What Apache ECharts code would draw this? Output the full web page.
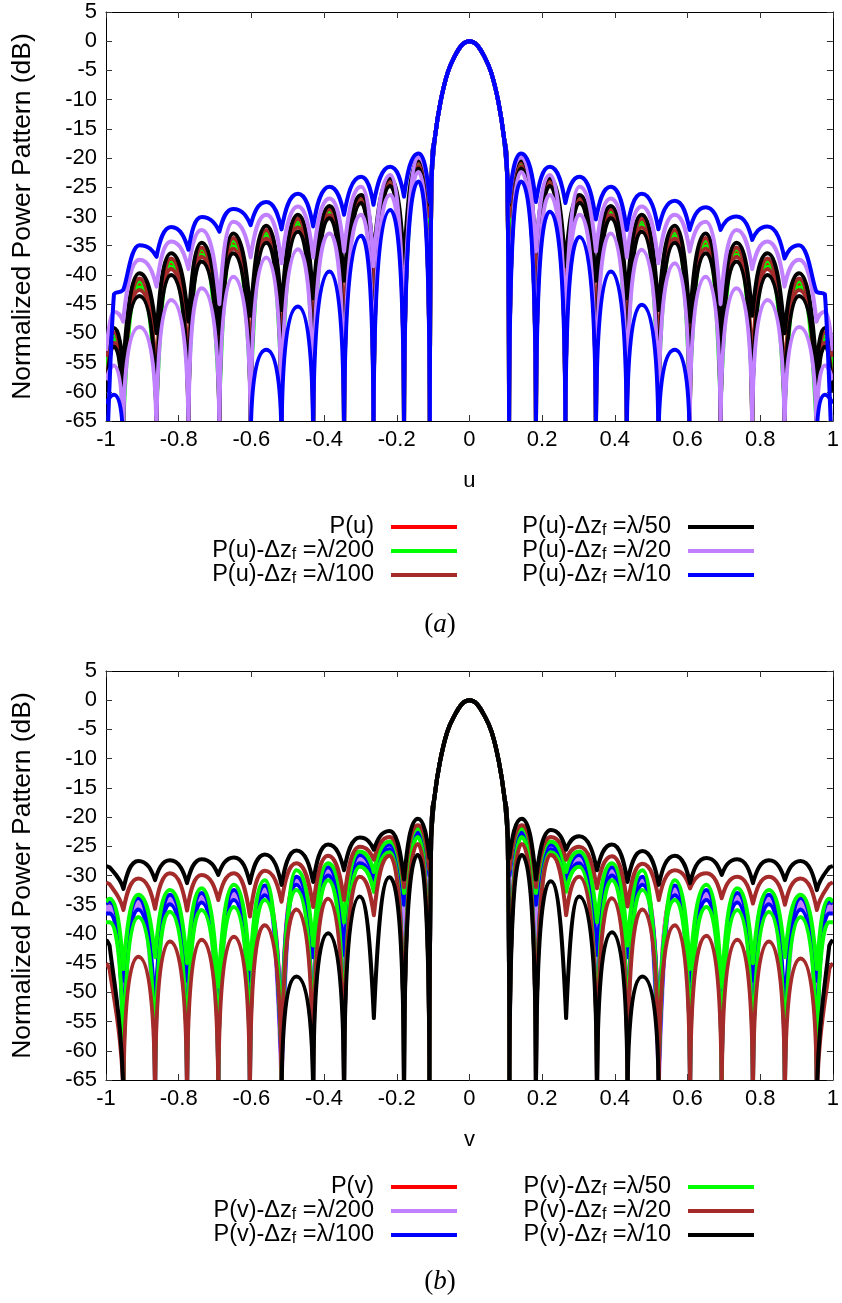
<!DOCTYPE html>
<html>
<head>
<meta charset="utf-8">
<script src="https://cdn.jsdelivr.net/npm/echarts@6/dist/echarts.min.js"></script>
<style>
html,body{margin:0;padding:0;background:#fff;}
#c{width:842px;height:1303px;}
</style>
</head>
<body>
<div id="c"></div>
<script>
// ---------- shared ----------
const NUL = -70; // off-scale null (pattern goes to -inf there)
const ALLNUL = [NUL,NUL,NUL,NUL,NUL,NUL,NUL,NUL,NUL,NUL,NUL,NUL,NUL,NUL,NUL,NUL,NUL,NUL,NUL,NUL,NUL,NUL];
const X_TICKS = [-1,-0.8,-0.6,-0.4,-0.2,0,0.2,0.4,0.6,0.8,1];
const Y_TICKS = [5,0,-5,-10,-15,-20,-25,-30,-35,-40,-45,-50,-55,-60,-65];

// ---------- panel (a) : u cut ----------
const PK_A = [-0.978,-0.908,-0.821,-0.737,-0.650,-0.559,-0.472,-0.385,-0.298,-0.218,-0.140, 0.142,0.221,0.303,0.389,0.474,0.565,0.650,0.735,0.820,0.907,0.978];
const DP_A = [-0.953,-0.861,-0.773,-0.688,-0.602,-0.517,-0.430,-0.345,-0.264,-0.180,-0.109, 0.109,0.183,0.264,0.348,0.433,0.520,0.606,0.691,0.778,0.867,0.955];
const MAIN_U_A = [-0.104,-0.095,-0.080,-0.060,-0.040,-0.020,0,0.020,0.040,0.060,0.080,0.095,0.104];
const MAIN_DB_A = [-23,-16.5,-10.5,-5.4,-2.5,-0.6,0,-0.6,-2.5,-5.4,-10.5,-16.5,-23];

const RED_A_PK = [-50.7,-41.6,-38.1,-36.1,-34.6,-33.0,-31.1,-29.2,-27.0,-24.1,-21.0, -21.0,-24.1,-27.0,-29.2,-31.1,-33.0,-34.6,-36.1,-38.1,-41.6,-50.7];
const RED_A_END = [-56,-56];

const GRN_A_UP_PK = [-50.3,-41.1,-37.6,-35.6,-34.1,-32.6,-30.7,-28.9,-26.8,-23.9,-20.8, -20.8,-23.9,-26.8,-28.9,-30.7,-32.6,-34.1,-35.6,-37.6,-41.1,-50.3];
const GRN_A_UP_DP = [-66,-63,-60,-62,-60,-59,-57,-55,-52,-51,-33, -33,-49,-52,-55,-57,-59,-60,-62,-60,-63,-66];
const GRN_A_UP_END = [-55,-55];
const GRN_A_LO_PK = [-51.1,-42.1,-38.6,-36.6,-35.1,-33.4,-31.5,-29.5,-27.2,-24.3,-21.2, -21.2,-24.3,-27.2,-29.5,-31.5,-33.4,-35.1,-36.6,-38.6,-42.1,-51.1];
const GRN_A_LO_END = [-58,-58];

const BRN_A_UP_PK = [-49.8,-40.6,-37.2,-35.3,-33.7,-32.3,-30.4,-28.7,-26.6,-23.7,-20.6, -20.6,-23.7,-26.6,-28.7,-30.4,-32.3,-33.7,-35.3,-37.2,-40.6,-49.8];
const BRN_A_UP_DP = [-62,-58,-55,-57,-54,-53,-51,-48,-45,-44,-30, -30,-42,-45,-48,-51,-53,-54,-57,-55,-58,-62];
const BRN_A_UP_END = [-54,-54];
const BRN_A_LO_PK = [-51.6,-42.6,-39.0,-36.9,-35.5,-33.8,-31.9,-29.8,-27.4,-24.5,-21.4, -21.4,-24.5,-27.4,-29.8,-31.9,-33.8,-35.5,-36.9,-39.0,-42.6,-51.6];
const BRN_A_LO_END = [-59,-59];

const BLK_A_UP_PK = [-49.1,-39.7,-36.3,-34.5,-32.9,-31.6,-29.7,-28.2,-26.3,-23.4,-20.3, -20.3,-23.4,-26.3,-28.2,-29.7,-31.6,-32.9,-34.5,-36.3,-39.7,-49.1];
const BLK_A_UP_DP = [-56,-50,-48,-50,-47,-46,-44,-41,-37,-38,-28, -28,-36,-38.5,-41,-44,-46,-48,-50.5,-47,-50,-56];
const BLK_A_UP_END = [-53,-53];
const BLK_A_LO_PK = [-52.3,-43.6,-40.0,-37.7,-36.3,-34.5,-32.6,-30.3,-27.7,-24.8,-21.8, -21.8,-24.8,-27.7,-30.3,-32.6,-34.5,-36.3,-37.7,-40.0,-43.6,-52.3];
const BLK_A_LO_END = [-60,-60];

const VIO_A_UP_PK = [-46.3,-37.4,-34.3,-32.3,-30.9,-29.7,-28.3,-26.9,-24.9,-22.9,-19.9, -19.9,-22.9,-24.9,-26.9,-28.3,-29.7,-30.9,-32.3,-34.3,-37.4,-46.3];
const VIO_A_UP_DP = [-48,-42,-39,-45,-37,-38,-37,-36,-38.5,-47.5,-27.5, -27.5,-36,-47.5,-36,-37,-38,-36,-45,-39,-42,-48];
const VIO_A_UP_END = [-53,-53];
const VIO_A_LO_PK = [-55.5,-48.9,-44.3,-42.3,-40.3,-37.0,-35.6,-32.9,-29.7,-26.3,-22.4, -22.4,-26.3,-29.7,-32.9,-35.7,-38.0,-40.3,-42.3,-44.3,-48.9,-55.5];
const VIO_A_LO_END = [-58,-58];

const BLU_A_UP_PK = [-43.3,-34.9,-31.8,-30.1,-28.7,-27.5,-26.1,-24.9,-23.2,-21.5,-19.2, -19.2,-21.5,-23.2,-24.9,-26.1,-27.3,-28.4,-30.0,-31.7,-34.9,-43.3];
const BLU_A_UP_DP = [-42.6,-36.9,-35.7,-32.6,-31.5,-32.2,-31.7,-29.7,-28.0,-26.6,-27.5, -27.5,-27.5,-27.7,-30.5,-32.3,-32.2,-32.3,-32.3,-34.0,-37.2,-42.9];
const BLU_A_UP_END = [-75,-75];
const BLU_A_LO_PK = [-60.5,-80,-80,-80,-80,-52.8,-45.4,-39.4,-33.3,-28.9,-24.0, -24.0,-29.2,-33.5,-39.4,-45.1,-52.8,-80,-80,-80,-80,-60.5];
const BLU_A_LO_END = [-62,-62];

// ---------- panel (b) : v cut ----------
const PK_B = [-0.990,-0.911,-0.824,-0.737,-0.648,-0.563,-0.476,-0.389,-0.302,-0.220,-0.142, 0.144,0.224,0.302,0.392,0.476,0.565,0.652,0.737,0.824,0.911,0.990];
const DP_B = [-0.952,-0.865,-0.777,-0.691,-0.604,-0.517,-0.430,-0.345,-0.263,-0.180,-0.110, 0.110,0.183,0.266,0.351,0.435,0.521,0.607,0.694,0.780,0.868,0.956];
const MAIN_U_B = [-0.105,-0.096,-0.081,-0.061,-0.040,-0.020,0,0.020,0.040,0.061,0.081,0.096,0.105];
const MAIN_DB_B = [-23,-16.5,-10.5,-5.4,-2.5,-0.6,0,-0.6,-2.5,-5.4,-10.5,-16.5,-23];

const RED_B_PK = [-35.6,-34.9,-34.1,-33.8,-33.4,-32.6,-30.9,-29.4,-27.3,-25.2,-22.8, -22.8,-25.2,-27.3,-29.4,-30.9,-32.6,-33.4,-33.8,-34.1,-34.9,-35.6];
const RED_B_DP = [NUL,NUL,NUL,NUL,NUL,NUL,NUL,NUL,-31.5,NUL,NUL, NUL,NUL,-31.5,NUL,NUL,NUL,NUL,NUL,NUL,NUL,NUL];
const RED_B_END = [-35.6,-35.6];

const VIO_B_UP_PK = [-35.3,-34.6,-33.8,-33.5,-33.1,-32.3,-30.6,-29.1,-27.0,-25.0,-22.6, -22.6,-25.0,-27.0,-29.1,-30.6,-32.3,-33.1,-33.5,-33.8,-34.6,-35.3];
const VIO_B_UP_DP = [-56,-60,-56,-58,-55,-66,-55,-52,-31,-40,-31, -31,-40,-31,-52,-55,-66,-55,-58,-56,-60,-56];
const VIO_B_UP_END = [-35.3,-35.3];
const VIO_B_LO_PK = [-35.9,-35.2,-34.4,-34.2,-33.7,-32.9,-31.1,-29.6,-27.5,-25.4,-23.0, -23.0,-25.4,-27.5,-29.6,-31.1,-32.9,-33.7,-34.2,-34.4,-35.2,-35.9];
const VIO_B_LO_DP = [NUL,NUL,NUL,NUL,NUL,NUL,NUL,NUL,-31.8,NUL,NUL, NUL,NUL,-31.8,NUL,NUL,NUL,NUL,NUL,NUL,NUL,NUL];
const VIO_B_LO_END = [-35.9,-35.9];

const BLU_B_UP_PK = [-34.5,-33.9,-33.3,-33.0,-32.5,-31.7,-30.2,-28.6,-26.5,-24.7,-22.5, -22.5,-24.7,-26.5,-28.6,-30.2,-31.7,-32.5,-33.0,-33.3,-33.9,-34.5];
const BLU_B_UP_DP = [-48,-53,-48,-52,-48,-63,-44,-43.6,-30.5,-35,-30, -30,-35,-30.5,-43.6,-44,-63,-48,-52,-48,-53,-48];
const BLU_B_UP_END = [-34.8,-34.8];
const BLU_B_LO_PK = [-36.5,-35.8,-34.9,-34.6,-34.2,-33.4,-31.6,-30.0,-27.9,-25.5,-23.1, -23.1,-25.5,-27.9,-30.0,-31.6,-33.4,-34.2,-34.6,-34.9,-35.8,-36.5];
const BLU_B_LO_DP = [NUL,NUL,NUL,NUL,NUL,NUL,NUL,NUL,-32.2,NUL,NUL, NUL,NUL,-32.2,NUL,NUL,NUL,NUL,NUL,NUL,NUL,NUL];
const BLU_B_LO_END = [-36.5,-36.5];

const GRN_B_UP_PK = [-34.0,-33.3,-32.5,-32.2,-31.6,-30.8,-29.1,-27.9,-25.9,-24.2,-22.0, -22.0,-24.2,-25.9,-27.9,-29.1,-30.8,-31.6,-32.2,-32.5,-33.3,-34.0];
const GRN_B_UP_DP = [-46,-44,-45,-49,-46,-61,-42,-38,-29.4,-33,-29, -29,-33,-29.4,-38,-42,-61,-46,-49,-45,-44,-46];
const GRN_B_UP_END = [-34.5,-34.5];
const GRN_B_LO_PK = [-38.0,-37.1,-36.2,-35.9,-35.4,-34.2,-32.5,-30.8,-28.5,-26.0,-23.4, -23.4,-26.0,-28.5,-30.8,-32.5,-34.2,-35.4,-35.9,-36.2,-37.1,-38.0];
const GRN_B_LO_DP = [NUL,NUL,NUL,NUL,NUL,NUL,NUL,NUL,-32.8,NUL,NUL, NUL,NUL,-32.8,NUL,NUL,NUL,NUL,NUL,NUL,NUL,NUL];
const GRN_B_LO_END = [-38,-38];

const BRN_B_UP_PK = [-31.5,-30.5,-29.6,-29.9,-29.6,-29.2,-27.9,-26.6,-25.1,-23.4,-21.4, -21.4,-23.4,-25.1,-26.7,-28.0,-29.1,-29.6,-30.2,-30.2,-30.5,-31.5];
const BRN_B_UP_DP = [-35.9,-35.7,-36,-34.2,-37.0,-34.5,-35.4,-34.2,-27.3,-32,-29, -29,-32,-27.3,-32.2,-35.3,-34.2,-32.2,-33.9,-34.8,-35.0,-35.9];
const BRN_B_UP_END = [-31.2,-31.2];
const BRN_B_LO_PK = [-46,-43.9,-41.3,-41.0,-40.5,-38.5,-35.8,-34.0,-30.2,-26.6,-24.6, -24.6,-26.5,-30.2,-33.9,-35.8,-38.5,-40.3,-41.0,-41.3,-44.2,-46];
const BRN_B_LO_DP = [NUL,NUL,NUL,NUL,NUL,NUL,NUL,NUL,-36.8,NUL,NUL, NUL,NUL,-36.8,NUL,NUL,NUL,NUL,NUL,NUL,NUL,NUL];
const BRN_B_LO_END = [-45,-45];

const BLK_B_UP_PK = [-28.6,-27.5,-27.4,-27.2,-26.9,-26.4,-25.7,-24.7,-23.5,-22.4,-20.3, -20.3,-22.2,-23.3,-24.7,-25.8,-26.6,-27.0,-27.2,-27.4,-27.5,-28.6];
const BLK_B_UP_DP = [-32.3,-30.8,-31.3,-29.9,-31.3,-31.6,-31.1,-29.1,-25.6,-30.7,-27, -27,-30.7,-25.6,-29.1,-31.1,-31.6,-31.3,-29.9,-31.3,-30.8,-32.5];
const BLK_B_UP_END = [-28.4,-28.4];
const BLK_B_LO_PK = [-42,-80,-80,-80,-80,-80,-47.3,-39.9,-33.6,-30.3,-26.5, -26.5,-31.0,-33.6,-39.7,-47.3,-80,-80,-80,-80,-80,-42];
const BLK_B_LO_DP = [NUL,NUL,NUL,NUL,NUL,NUL,NUL,NUL,-54.4,NUL,NUL, NUL,NUL,-54.4,NUL,NUL,NUL,NUL,NUL,NUL,NUL,NUL];
const BLK_B_LO_END = [-41,-41];

// ---------- labels ----------
const NAMES_A = ['P(u)','P(u)-Δz_f =λ/200','P(u)-Δz_f =λ/100','P(u)-Δz_f =λ/50','P(u)-Δz_f =λ/20','P(u)-Δz_f =λ/10'];
const NAMES_B = ['P(v)','P(v)-Δz_f =λ/200','P(v)-Δz_f =λ/100','P(v)-Δz_f =λ/50','P(v)-Δz_f =λ/20','P(v)-Δz_f =λ/10'];
const COLORS_A = ['#ff0000','#00ff00','#a52a2a','#000000','#c080ff','#0000ff'];
const COLORS_B = ['#ff0000','#c080ff','#0000ff','#00ff00','#a52a2a','#000000'];

// ---------- build ordered point lists (read peaks / dips / main lobe) ----------
function trace(pk, dp, mu, md, vPk, vDp, ends) {
  const out = [[-1, ends[0]]];
  for (let i = 0; i < 11; i++) { out.push([pk[i], vPk[i]]); out.push([dp[i], vDp[i]]); }
  for (let j = 0; j < mu.length; j++) out.push([mu[j], md[j]]);
  for (let i = 11; i < 22; i++) { out.push([dp[i], vDp[i]]); out.push([pk[i], vPk[i]]); }
  out.push([1, ends[1]]);
  return out;
}
const A = (pk, dp, e) => trace(PK_A, DP_A, MAIN_U_A, MAIN_DB_A, pk, dp, e);
const B = (pk, dp, e) => trace(PK_B, DP_B, MAIN_U_B, MAIN_DB_B, pk, dp, e);

// Lobe-shaped cubic path through the projected points (rounded lobe tops, steep dips).
function lobePath(pts, vals) {
  const n = pts.length;
  const kind = i => {
    if (vals[i] === NUL) return 'null';
    if (i === 0 || i === n - 1) return 'end';
    const yp = pts[i-1][1], y = pts[i][1], yn = pts[i+1][1];
    if (y <= yp && y <= yn) return 'max';
    if (y >= yp && y >= yn) return 'min';
    return 'mono';
  };
  const clamp = (c, P, Q) => [
    Math.min(Math.max(c[0], Math.min(P[0], Q[0])), Math.max(P[0], Q[0])),
    Math.min(Math.max(c[1], Math.min(P[1], Q[1])), Math.max(P[1], Q[1]))];
  const f = v => v.toFixed(2);
  let d = 'M' + f(pts[0][0]) + ',' + f(pts[0][1]);
  for (let i = 0; i < n - 1; i++) {
    const P = pts[i], Q = pts[i+1];
    const dx = Q[0] - P[0], dy = Q[1] - P[1];
    const ka = kind(i), kb = kind(i+1);
    let c1, c2;
    if (ka === 'max') c1 = [P[0] + (kb === 'null' ? 0.8 : 0.55) * dx, P[1]];
    else if (ka === 'null') c1 = [P[0], P[1] + 0.5 * dy];
    else if (ka === 'min') c1 = [P[0] + 0.2 * dx, P[1] + 0.5 * dy];
    else { const R = pts[Math.max(0, i-1)]; c1 = [P[0] + (Q[0]-R[0])/6, P[1] + (Q[1]-R[1])/6]; }
    if (kb === 'max') c2 = [Q[0] - (ka === 'null' ? 0.8 : 0.55) * dx, Q[1]];
    else if (kb === 'null') c2 = [Q[0], Q[1] - 0.5 * dy];
    else if (kb === 'min') c2 = [Q[0] - 0.2 * dx, Q[1] - 0.5 * dy];
    else { const S = pts[Math.min(n-1, i+2)]; c2 = [Q[0] - (S[0]-P[0])/6, Q[1] - (S[1]-P[1])/6]; }
    c1 = clamp(c1, P, Q); c2 = clamp(c2, P, Q);
    d += ' C' + f(c1[0]) + ',' + f(c1[1]) + ' ' + f(c2[0]) + ',' + f(c2[1]) + ' ' + f(Q[0]) + ',' + f(Q[1]);
  }
  return d;
}

function ser(name, color, idx, data) {
  return {type:'custom', name, coordinateSystem:'cartesian2d', xAxisIndex: idx, yAxisIndex: idx,
    data, encode:{x:0, y:1}, clip:true, silent:true, itemStyle:{color},
    renderItem: (params, api) => {
      if (params.dataIndex !== 0) return null;
      const pts = data.map(p => api.coord(p));
      const vals = data.map(p => p[1]);
      return {type:'path', shape:{pathData: lobePath(pts, vals)},
        style:{stroke: color, lineWidth: 4, fill: null, lineJoin:'round'}};
    }};
}

const series = [
  ser(NAMES_A[0], COLORS_A[0], 0, A(RED_A_PK, ALLNUL, RED_A_END)),
  ser(NAMES_A[1], COLORS_A[1], 0, A(GRN_A_UP_PK, GRN_A_UP_DP, GRN_A_UP_END)),
  ser(NAMES_A[1], COLORS_A[1], 0, A(GRN_A_LO_PK, ALLNUL, GRN_A_LO_END)),
  ser(NAMES_A[2], COLORS_A[2], 0, A(BRN_A_UP_PK, BRN_A_UP_DP, BRN_A_UP_END)),
  ser(NAMES_A[2], COLORS_A[2], 0, A(BRN_A_LO_PK, ALLNUL, BRN_A_LO_END)),
  ser(NAMES_A[3], COLORS_A[3], 0, A(BLK_A_UP_PK, BLK_A_UP_DP, BLK_A_UP_END)),
  ser(NAMES_A[3], COLORS_A[3], 0, A(BLK_A_LO_PK, ALLNUL, BLK_A_LO_END)),
  ser(NAMES_A[4], COLORS_A[4], 0, A(VIO_A_UP_PK, VIO_A_UP_DP, VIO_A_UP_END)),
  ser(NAMES_A[4], COLORS_A[4], 0, A(VIO_A_LO_PK, ALLNUL, VIO_A_LO_END)),
  ser(NAMES_A[5], COLORS_A[5], 0, A(BLU_A_UP_PK, BLU_A_UP_DP, BLU_A_UP_END)),
  ser(NAMES_A[5], COLORS_A[5], 0, A(BLU_A_LO_PK, ALLNUL, BLU_A_LO_END)),

  ser(NAMES_B[0], COLORS_B[0], 1, B(RED_B_PK, RED_B_DP, RED_B_END)),
  ser(NAMES_B[1], COLORS_B[1], 1, B(VIO_B_UP_PK, VIO_B_UP_DP, VIO_B_UP_END)),
  ser(NAMES_B[1], COLORS_B[1], 1, B(VIO_B_LO_PK, VIO_B_LO_DP, VIO_B_LO_END)),
  ser(NAMES_B[2], COLORS_B[2], 1, B(BLU_B_UP_PK, BLU_B_UP_DP, BLU_B_UP_END)),
  ser(NAMES_B[2], COLORS_B[2], 1, B(BLU_B_LO_PK, BLU_B_LO_DP, BLU_B_LO_END)),
  ser(NAMES_B[3], COLORS_B[3], 1, B(GRN_B_UP_PK, GRN_B_UP_DP, GRN_B_UP_END)),
  ser(NAMES_B[3], COLORS_B[3], 1, B(GRN_B_LO_PK, GRN_B_LO_DP, GRN_B_LO_END)),
  ser(NAMES_B[4], COLORS_B[4], 1, B(BRN_B_UP_PK, BRN_B_UP_DP, BRN_B_UP_END)),
  ser(NAMES_B[4], COLORS_B[4], 1, B(BRN_B_LO_PK, BRN_B_LO_DP, BRN_B_LO_END)),
  ser(NAMES_B[5], COLORS_B[5], 1, B(BLK_B_UP_PK, BLK_B_UP_DP, BLK_B_UP_END)),
  ser(NAMES_B[5], COLORS_B[5], 1, B(BLK_B_LO_PK, BLK_B_LO_DP, BLK_B_LO_END)),
];

const FONT = '"Liberation Sans", Arial, Helvetica, sans-serif';
const FS = 22;

function xAx(g, name, pos, labels) {
  return {type:'value', gridIndex:g, min:X_TICKS[0], max:X_TICKS[X_TICKS.length-1], interval:0.2, position:pos,
    axisLine:{show:true, onZero:false, lineStyle:{color:'#000', width:1}},
    axisTick:{show:true, inside:true, length:6, lineStyle:{color:'#333'}},
    axisLabel:{show:labels, color:'#000', fontSize:FS, fontFamily:FONT, margin:8},
    splitLine:{show:false},
    name: name, nameLocation:'middle', nameGap:49,
    nameTextStyle:{color:'#000', fontSize:FS, fontFamily:FONT}};
}
function yAx(g, pos, labels) {
  return {type:'value', gridIndex:g, min:Y_TICKS[Y_TICKS.length-1], max:Y_TICKS[0], interval:5, position:pos,
    axisLine:{show:true, onZero:false, lineStyle:{color:'#000', width:1}},
    axisTick:{show:true, inside:true, length:6, lineStyle:{color:'#333'}},
    axisLabel:{show:labels, color:'#000', fontSize:FS, fontFamily:FONT, margin:9},
    splitLine:{show:false},
    name: labels ? 'Normalized Power Pattern (dB)' : '', nameLocation:'middle', nameGap:70, nameRotate:90,
    nameTextStyle:{color:'#000', fontSize:26.5, fontFamily:FONT}};
}

function legend(names, right, top) {
  return {data: names, orient:'vertical', align:'right', right, top, padding:0, itemGap:0,
    itemWidth:66, itemHeight:4, icon:'rect', selectedMode:false,
    formatter: n => n.replace('_f', '{s|f}'),
    textStyle:{fontFamily:FONT, fontSize:23.5, color:'#000', lineHeight:24, padding:[0,12,0,0],
      rich:{s:{fontFamily:FONT, fontSize:16, color:'#000', lineHeight:8, verticalAlign:'bottom'}}}};
}

function caption(letter, y) {
  const SERIF = '"Liberation Serif", "DejaVu Serif", serif';
  return {type:'text', x:440, y:y, silent:true, style:{
    text:'{n|(}{i|' + letter + '}{n|)}', align:'center', verticalAlign:'middle',
    rich:{n:{fontFamily:SERIF, fontSize:27, color:'#000'},
          i:{fontFamily:SERIF, fontStyle:'italic', fontSize:27, color:'#000'}}}};
}

const chart = echarts.init(document.getElementById('c'), null, {renderer:'canvas'});
chart.setOption({
  animation:false,
  backgroundColor:'#fff',
  grid:[
    {left:106, top:12, width:728, height:409},
    {left:106, top:671, width:728, height:409}
  ],
  xAxis:[xAx(0,'u','bottom',true), xAx(1,'v','bottom',true), xAx(0,'','top',false), xAx(1,'','top',false)],
  yAxis:[yAx(0,'left',true), yAx(1,'left',true), yAx(0,'right',false), yAx(1,'right',false)],
  legend:[
    legend(NAMES_A.slice(0,3), 385, 515),
    legend(NAMES_A.slice(3,6), 88, 515),
    legend(NAMES_B.slice(0,3), 385, 1175),
    legend(NAMES_B.slice(3,6), 88, 1175)
  ],
  graphic:[caption('a', 625), caption('b', 1282)],
  series: series
});
</script>
</body>
</html>
